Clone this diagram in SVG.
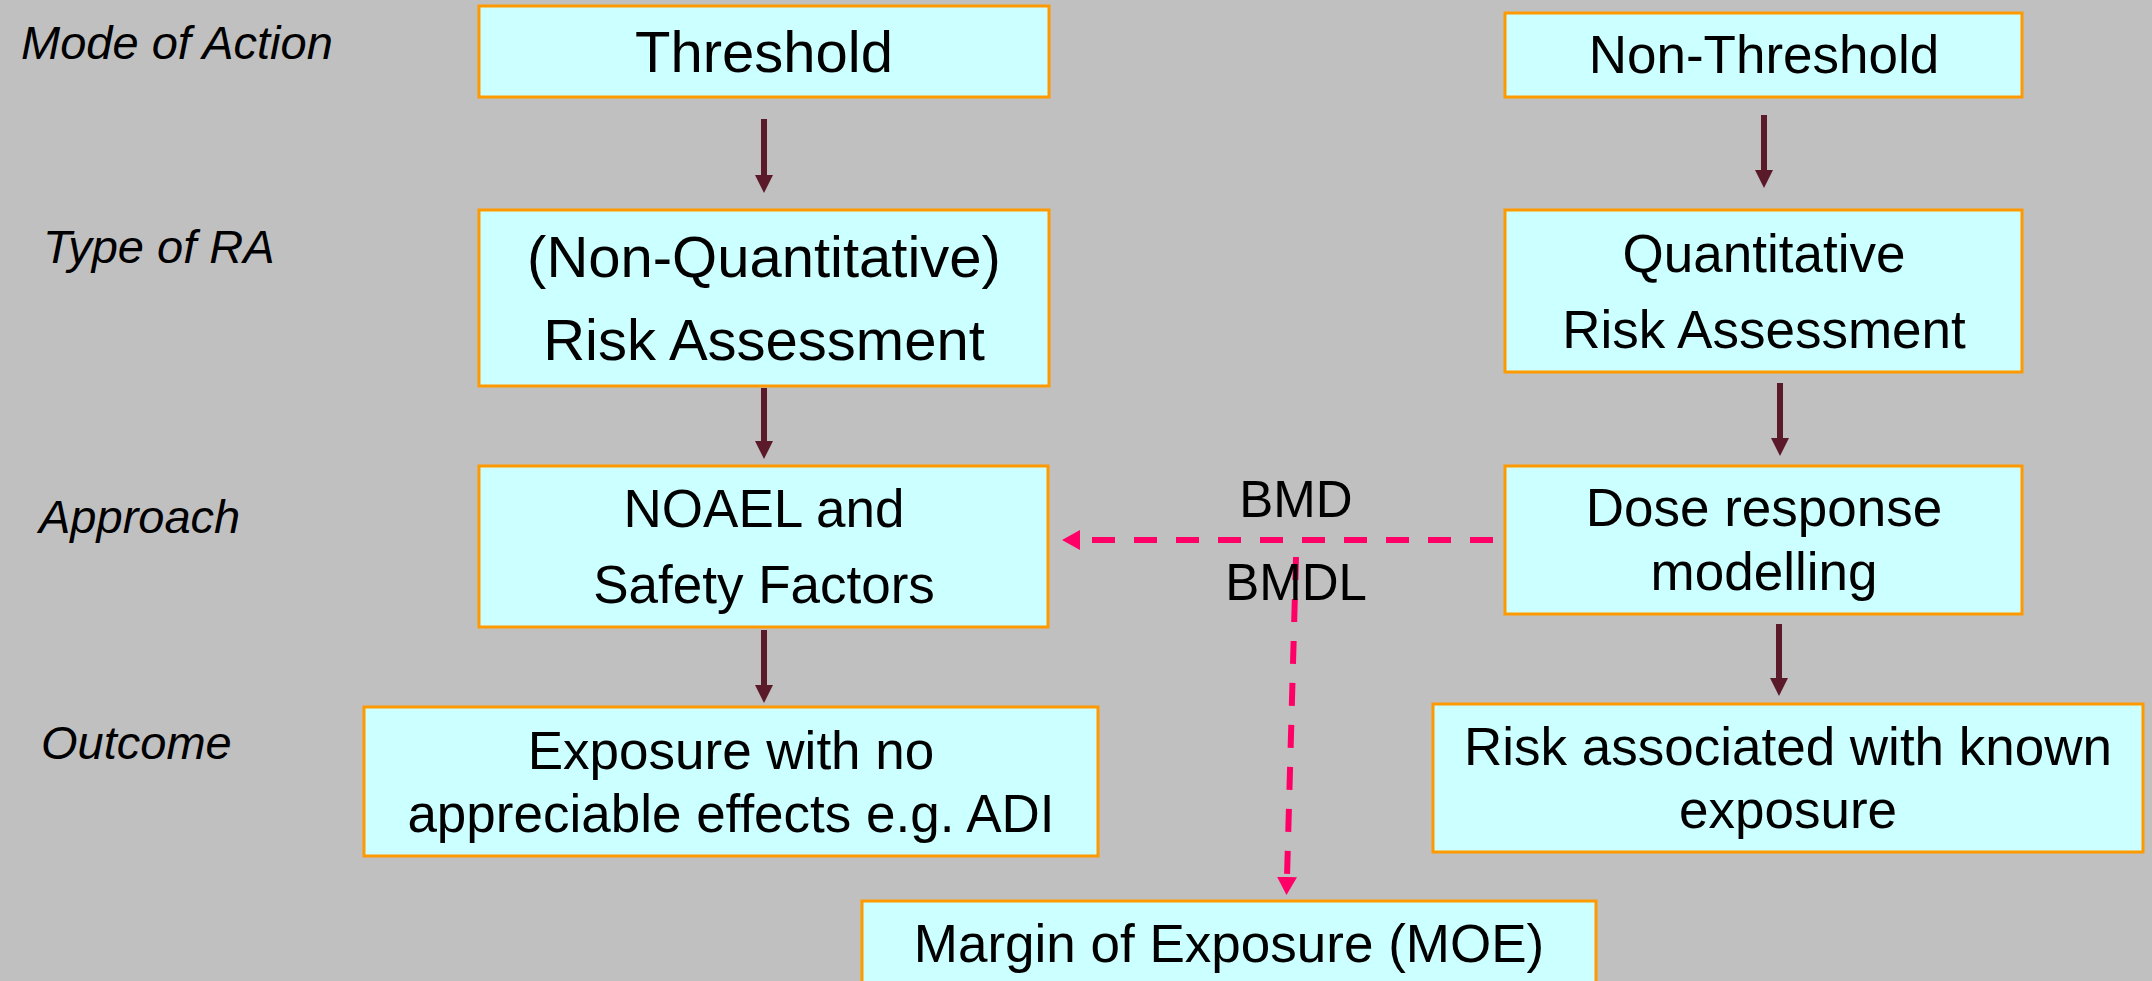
<svg xmlns="http://www.w3.org/2000/svg" width="2152" height="981" viewBox="0 0 2152 981">
  <style>
    .box { fill: #CCFFFF; stroke: #FF9900; stroke-width: 3; }
    .t { font-family: "Liberation Sans", Arial, sans-serif; fill: #000; text-anchor: middle; }
    .lg { font-size: 58px; }
    .md { font-size: 53px; }
    .lbl { font-family: "Liberation Sans", Arial, sans-serif; font-style: italic; font-size: 47px; fill: #000; }
    .flow { stroke: #5A1A2A; stroke-width: 6; fill: none; marker-end: url(#headDark); }
    .dash { stroke: #FF0066; stroke-width: 6; fill: none; stroke-dasharray: 23 19; marker-end: url(#headPink); }
  </style>
  <defs>
    <marker id="headDark" markerUnits="userSpaceOnUse" markerWidth="18" markerHeight="18" refX="0" refY="9" orient="auto">
      <path d="M0,0 L18,9 L0,18 Z" fill="#5A1A2A"/>
    </marker>
    <marker id="headPink" markerUnits="userSpaceOnUse" markerWidth="18" markerHeight="20" refX="0" refY="10" orient="auto">
      <path d="M0,0 L18,10 L0,20 Z" fill="#FF0066"/>
    </marker>
  </defs>

  <rect x="0" y="0" width="2152" height="981" fill="#C0C0C0"/>

  <!-- row labels -->
  <g id="row-labels">
    <text class="lbl" x="21" y="59">Mode of Action</text>
    <text class="lbl" x="43" y="263">Type of RA</text>
    <text class="lbl" x="39" y="533">Approach</text>
    <text class="lbl" x="41" y="759">Outcome</text>
  </g>

  <!-- connectors -->
  <g id="connectors">
    <line class="flow" x1="764" y1="119" x2="764" y2="175"/>
    <line class="flow" x1="764" y1="388" x2="764" y2="441"/>
    <line class="flow" x1="764" y1="630" x2="764" y2="685"/>
    <line class="flow" x1="1764" y1="115" x2="1764" y2="170"/>
    <line class="flow" x1="1780" y1="383" x2="1780" y2="438"/>
    <line class="flow" x1="1779" y1="624" x2="1779" y2="678"/>
    <line class="dash" x1="1493" y1="540" x2="1080" y2="540"/>
    <line class="dash" x1="1296" y1="557" x2="1287" y2="877"/>
    <text class="t" style="font-size:51px" x="1296" y="517">BMD</text>
    <text class="t" style="font-size:51px" x="1296" y="600">BMDL</text>
  </g>

  <g id="threshold">
    <rect class="box" x="479" y="6" width="570" height="91"/>
    <text class="t lg" x="764" y="72">Threshold</text>
  </g>
  <g id="non-quant-ra">
    <rect class="box" x="479" y="210" width="570" height="176"/>
    <text class="t lg" x="764" y="277">(Non-Quantitative)</text>
    <text class="t lg" x="764" y="360">Risk Assessment</text>
  </g>
  <g id="noael">
    <rect class="box" x="479" y="466" width="569" height="161"/>
    <text class="t md" x="764" y="527">NOAEL and</text>
    <text class="t md" x="764" y="603">Safety Factors</text>
  </g>
  <g id="exposure-no-effects">
    <rect class="box" x="364" y="707" width="734" height="149"/>
    <text class="t md" x="731" y="769">Exposure with no</text>
    <text class="t md" x="731" y="832">appreciable effects e.g. ADI</text>
  </g>
  <g id="non-threshold">
    <rect class="box" x="1505" y="13" width="517" height="84"/>
    <text class="t md" x="1764" y="73">Non-Threshold</text>
  </g>
  <g id="quant-ra">
    <rect class="box" x="1505" y="210" width="517" height="162"/>
    <text class="t md" x="1764" y="272">Quantitative</text>
    <text class="t md" x="1764" y="348">Risk Assessment</text>
  </g>
  <g id="dose-response">
    <rect class="box" x="1505" y="466" width="517" height="148"/>
    <text class="t md" x="1764" y="526">Dose response</text>
    <text class="t md" x="1764" y="590">modelling</text>
  </g>
  <g id="risk-known-exposure">
    <rect class="box" x="1433" y="704" width="710" height="148"/>
    <text class="t md" x="1788" y="765">Risk associated with known</text>
    <text class="t md" x="1788" y="828">exposure</text>
  </g>
  <g id="moe">
    <rect class="box" x="862" y="901" width="734" height="100"/>
    <text class="t md" x="1229" y="962">Margin of Exposure (MOE)</text>
  </g>
</svg>
